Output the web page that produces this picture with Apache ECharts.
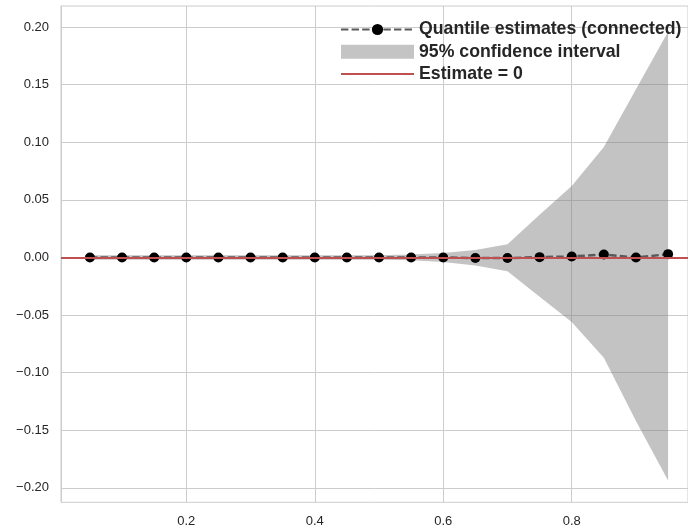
<!DOCTYPE html>
<html>
<head>
<meta charset="utf-8">
<script src="https://cdn.jsdelivr.net/npm/echarts@6/dist/echarts.min.js"></script>
<style>html,body{margin:0;padding:0;background:#fff}#c{width:688px;height:529px}</style>
</head>
<body>
<div id="c"></div>
<script>
const quantiles = [0.05,0.10,0.15,0.20,0.25,0.30,0.35,0.40,0.45,0.50,0.55,0.60,0.65,0.70,0.75,0.80,0.85,0.90,0.95];
const estimates = [0,0,0,0,0,0,0,0,0,0,0,0,-0.0005,-0.0005,0.0003,0.0009,0.0026,0.0000,0.0029];
const ciUpper = [0.002,0.002,0.002,0.002,0.002,0.002,0.002,0.002,0.002,0.002,0.0025,0.004,0.0065,0.0115,0.037,0.062,0.096,0.146,0.196];
const ciLower = [-0.002,-0.002,-0.002,-0.002,-0.002,-0.002,-0.002,-0.002,-0.002,-0.002,-0.0025,-0.004,-0.007,-0.012,-0.034,-0.056,-0.087,-0.142,-0.1935];
const xTicks = [0.2,0.4,0.6,0.8];
const yTicks = [-0.20,-0.15,-0.10,-0.05,0.00,0.05,0.10,0.15,0.20];
const zeroLevel = 0;

const names = ['Quantile estimates (connected)','95% confidence interval','Estimate = 0'];
const fmt = (v,d) => { const s = Math.abs(v).toFixed(d); return (v < -1e-9 ? '\u2212' : '') + s; };

const chart = echarts.init(document.getElementById('c'), null, {renderer:'canvas'});
chart.setOption({
  animation:false,
  backgroundColor:'#ffffff',
  grid:{left:61, right:-1, top:6, bottom:26.7, show:true, borderColor:'#cccccc', borderWidth:1, containLabel:false},
  xAxis:{
    type:'value', min:0.005, max:0.981,
    axisLine:{show:true, lineStyle:{color:'#cccccc', width:1}},
    axisTick:{show:false, customValues:xTicks},
    splitLine:{show:true, lineStyle:{color:'#cccccc', width:1}},
    axisLabel:{customValues:xTicks, formatter:v=>fmt(v,1), color:'#262626', fontSize:13, fontFamily:'Liberation Sans', margin:12.5}
  },
  yAxis:{
    type:'value', min:-0.2125, max:0.2183,
    axisLine:{show:true, lineStyle:{color:'#cccccc', width:1}},
    axisTick:{show:false, customValues:yTicks},
    splitLine:{show:true, lineStyle:{color:'#cccccc', width:1}},
    axisLabel:{customValues:yTicks, formatter:v=>fmt(v,2), color:'#262626', fontSize:13, fontFamily:'Liberation Sans', margin:12}
  },
  legend:{
    orient:'vertical', left:340, top:20.5, padding:0, itemGap:4.3, itemWidth:73, itemHeight:14,
    textStyle:{color:'#262626', fontSize:17.7, fontWeight:'bold', fontFamily:'Liberation Sans'},
    data:[
      {name:names[0]},
      {name:names[1], icon:'rect', itemStyle:{color:'#c4c4c4', opacity:1}},
      {name:names[2], itemStyle:{opacity:0}}
    ]
  },
  series:[
    {
      type:'custom', name:names[1], coordinateSystem:'cartesian2d',
      data:quantiles.map((q,i)=>[q,ciLower[i],ciUpper[i]]),
      encode:{x:0, y:[1,2]},
      itemStyle:{color:'#c4c4c4'},
      silent:true, z:1,
      renderItem:function(params, api){
        if (params.dataIndex !== 0) return null;
        const pts = [];
        for (let i=0;i<quantiles.length;i++) pts.push(api.coord([quantiles[i], ciUpper[i]]));
        for (let i=quantiles.length-1;i>=0;i--) pts.push(api.coord([quantiles[i], ciLower[i]]));
        return {type:'polygon', shape:{points:pts}, style:{fill:'rgba(128,128,128,0.47)', stroke:null}};
      }
    },
    {
      type:'line', name:names[2], data:[], symbol:'none',
      itemStyle:{color:'#c0504f'}, lineStyle:{color:'#c0504f', width:2},
      markLine:{silent:true, symbol:'none', label:{show:false}, lineStyle:{color:'#c0504f', width:2, type:'solid'}, data:[{yAxis:zeroLevel}]},
      z:2
    },
    {
      type:'line', name:names[0], data:quantiles.map((q,i)=>[q,estimates[i]]),
      symbol:'circle', symbolSize:10, itemStyle:{color:'#000000'},
      lineStyle:{color:'#595959', width:2.5, type:[7.4,3.2], opacity:1}, z:3
    }
  ]
});
</script>
</body>
</html>
